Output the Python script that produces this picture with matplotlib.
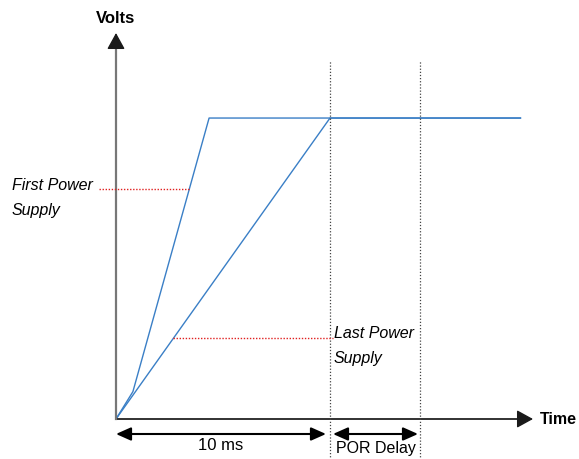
import matplotlib.pyplot as plt

# timing diagram data (ms, volts)
first_t = [0, 0.79, 4.35, 18.9]
first_v = [0, 0.30, 3.3, 3.3]
last_t = [0, 10.0, 18.9]
last_v = [0, 3.3, 3.3]
ramp_ms = 10.0
por_ms = 4.2
first_mark = (3.46, 2.52)   # where the first-supply label points
last_mark = (2.66, 0.89)    # where the last-supply label points

PX_MS = 21.4   # pixels per ms
PX_V = 91.2    # pixels per volt
X0, Y0 = 116, 419

plt.rcParams['font.family'] = ['Liberation Sans', 'DejaVu Sans']

fig = plt.figure(figsize=(5.79, 4.59), dpi=100)
ax = fig.add_axes([0, 0, 1, 1])
ax.set_xlim(-X0 / PX_MS, (579 - X0) / PX_MS)
ax.set_ylim((Y0 - 459) / PX_V, Y0 / PX_V)
ax.axis('off')

blue = '#3a7fc6'
ax.plot(first_t, first_v, color=blue, lw=1.0)
ax.plot(last_t, last_v, color=blue, lw=1.0)

# axes with arrow heads
x_end = (533 - X0) / PX_MS
y_end = (Y0 - 33) / PX_V
head = dict(arrowstyle='-|>,head_length=1.0,head_width=0.55', color='#1a1a1a',
            lw=1.0, shrinkA=0, shrinkB=0)
ax.plot([0, x_end - 0.3], [0, 0], color='#222222', lw=1.3)
ax.plot([0, 0], [0, y_end - 0.08], color='#777777', lw=1.6)
ax.annotate('', xy=(x_end, 0), xytext=(x_end - 0.5, 0), arrowprops=head)
ax.annotate('', xy=(0, y_end), xytext=(0, y_end - 0.12), arrowprops=head)
ax.text(x_end + 0.3, 0, 'Time', ha='left', va='center', fontsize=11.5, fontweight='bold')
ax.text(0, y_end + 0.16, 'Volts', ha='center', va='center', fontsize=12, fontweight='bold')

# dotted markers for ramp end and POR delay end
v_top = (Y0 - 60) / PX_V
v_bot = (Y0 - 460) / PX_V
for t in (ramp_ms, ramp_ms + por_ms):
    ax.plot([t, t], [v_bot, v_top], color='#444444', lw=0.9, ls=(0, (1, 1.5)))

# red leaders to labels
ax.plot([(99 - X0) / PX_MS, first_mark[0]], [first_mark[1]] * 2,
        color='#e02020', lw=1.0, ls=(0, (1, 1.2)))
ax.plot([last_mark[0], (333 - X0) / PX_MS], [last_mark[1]] * 2,
        color='#e02020', lw=1.0, ls=(0, (1, 1.2)))
ax.text((12 - X0) / PX_MS, first_mark[1] - 0.10, 'First Power\nSupply', ha='left', va='center',
        fontsize=11.5, style='italic', linespacing=1.8)
ax.text((334 - X0) / PX_MS, last_mark[1] - 0.09, 'Last Power\nSupply', ha='left', va='center',
        fontsize=11.5, style='italic', linespacing=1.8)

# dimension arrows
y_dim = -15 / PX_V
dim = dict(arrowstyle='<|-|>,head_length=0.9,head_width=0.4', color='black', lw=1.5,
           shrinkA=0, shrinkB=0)
ax.annotate('', xy=(0, y_dim), xytext=((326 - X0) / PX_MS, y_dim), arrowprops=dim)
ax.annotate('', xy=((333 - X0) / PX_MS, y_dim), xytext=((418 - X0) / PX_MS, y_dim), arrowprops=dim)
ax.text(ramp_ms / 2 - 0.1, -27 / PX_V, '10 ms', ha='center', va='center', fontsize=12)
ax.text(ramp_ms + por_ms / 2 + 0.05, -30 / PX_V, 'POR Delay', ha='center', va='center', fontsize=11.5)

fig.savefig('out.png', dpi=100, facecolor='white')
